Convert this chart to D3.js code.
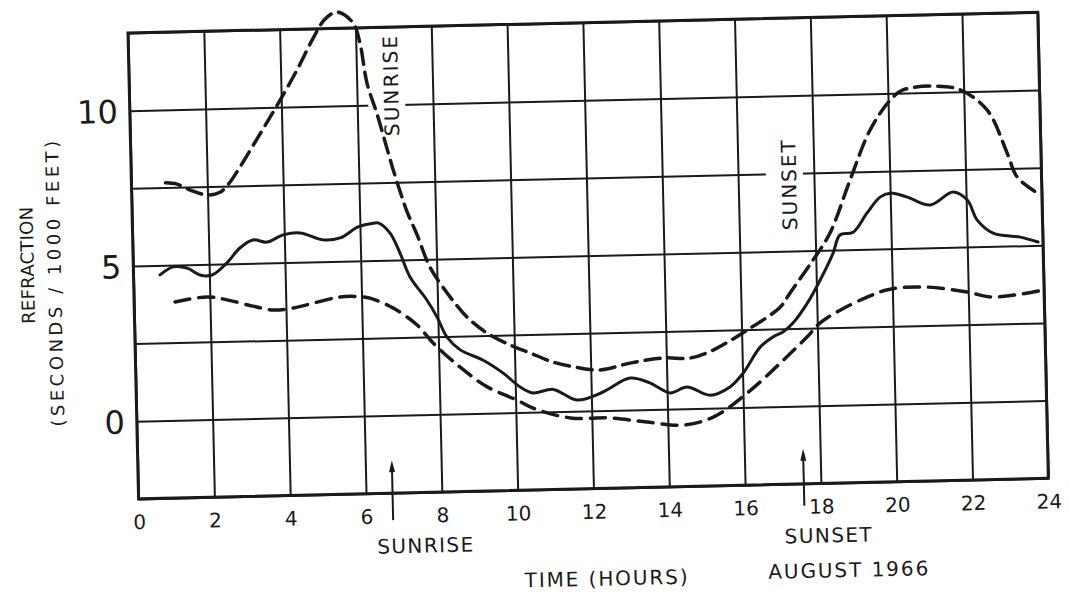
<!DOCTYPE html>
<html>
<head>
<meta charset="utf-8">
<script src="https://cdn.jsdelivr.net/npm/d3@7"></script>
<style>
  body { margin: 0; background: #fff; }
  svg { display: block; }
  text { font-family: "DejaVu Sans", sans-serif; fill: #1a1a1a; }
</style>
</head>
<body>
<script>
// refraction readings, august 1966 (hours / seconds per 1000 ft)
var hoursMax = [0.9, 1.2, 1.55, 2.0, 2.33, 2.55, 2.87, 3.34, 3.78, 4.03, 4.44, 4.88, 5.2, 5.52, 5.94, 6.11, 6.27, 6.52, 6.9, 7.08, 7.25, 7.5, 7.82, 8.26, 8.77, 9.29, 9.89, 10.41, 11.01, 11.6, 12.24, 13.04, 13.91, 14.63, 15.24, 16.15, 17.03, 17.3, 17.93, 18.39, 18.95, 19.51, 20.06, 20.4, 21.3, 21.91, 22.61, 23.11, 23.36, 23.88];
var refrMax = [7.65, 7.6, 7.4, 7.23, 7.31, 7.55, 8.1, 9.0, 9.85, 10.35, 11.2, 12.2, 12.8, 13.02, 12.66, 12.0, 10.72, 9.7, 7.95, 7.2, 6.55, 5.8, 4.75, 3.9, 3.11, 2.58, 2.18, 1.91, 1.6, 1.42, 1.31, 1.51, 1.65, 1.63, 1.87, 2.49, 3.2, 3.65, 4.7, 5.55, 7.24, 8.84, 9.79, 10.1, 10.2, 10.06, 9.39, 7.99, 7.21, 6.69];

var hoursMean = [0.7, 1.05, 1.42, 1.75, 2.07, 2.47, 2.82, 3.17, 3.54, 3.97, 4.42, 5.02, 5.47, 5.95, 6.35, 6.5, 6.79, 7.04, 7.29, 7.72, 7.98, 8.23, 8.57, 9.17, 9.69, 10.13, 10.46, 11.0, 11.62, 12.31, 13.03, 13.55, 14.08, 14.53, 15.13, 15.66, 16.02, 16.48, 16.83, 17.09, 17.36, 17.75, 18.1, 18.46, 18.65, 19.0, 19.38, 19.73, 20.0, 20.45, 21.05, 21.66, 22.03, 22.28, 22.69, 23.4, 23.87];
var refrMean = [4.69, 4.94, 4.89, 4.66, 4.65, 5.03, 5.5, 5.75, 5.67, 5.89, 5.94, 5.7, 5.75, 6.09, 6.2, 6.2, 5.87, 5.22, 4.44, 3.69, 3.13, 2.48, 2.06, 1.71, 1.28, 0.82, 0.62, 0.72, 0.36, 0.6, 1.03, 0.86, 0.52, 0.7, 0.42, 0.67, 1.11, 1.93, 2.25, 2.4, 2.68, 3.31, 4.04, 4.9, 5.48, 5.56, 6.17, 6.67, 6.79, 6.65, 6.38, 6.78, 6.51, 5.86, 5.43, 5.28, 5.11];

var hoursMin = [1.08, 1.93, 2.45, 3.13, 3.66, 4.19, 4.72, 5.43, 5.9, 6.22, 6.82, 7.45, 7.86, 8.55, 9.26, 10.04, 10.46, 11.43, 12.48, 13.45, 14.4, 15.2, 16.11, 17.0, 17.72, 18.07, 18.61, 19.33, 19.94, 20.92, 21.97, 22.65, 23.98];
var refrMin = [3.81, 3.95, 3.84, 3.62, 3.48, 3.53, 3.67, 3.85, 3.85, 3.79, 3.46, 2.89, 2.3, 1.51, 0.85, 0.4, 0.13, -0.21, -0.24, -0.4, -0.52, -0.29, 0.46, 1.4, 2.22, 2.66, 3.06, 3.46, 3.7, 3.74, 3.55, 3.37, 3.56];

var xTicks = [0, 2, 4, 6, 8, 10, 12, 14, 16, 18, 20, 22, 24];
var yGrid = [-2.5, 0, 2.5, 5, 7.5, 10, 12.5];
var yLabels = [0, 5, 10];
var sunrise = 6.7, sunset = 17.55;

var width = 1069, height = 594,
  plotW = 910, plotH = 466,
  ink = "#1a1a1a";

var svg = d3.select("body").append("svg")
  .attr("width", width)
  .attr("height", height);
svg.append("rect").attr("width", width).attr("height", height).attr("fill", "#fff");

// the scanned sheet sits slightly tilted
var main = svg.append("g").attr("transform", "translate(128,33) rotate(-1.3)");

var x = d3.scaleLinear().domain([0, 24]).range([0, plotW]);
var y = d3.scaleLinear().domain([-2.5, 12.5]).range([plotH, 0]);

// grid + tick labels through the axes
var xAxis = main.append("g")
  .attr("transform", "translate(0," + plotH + ")")
  .call(d3.axisBottom(x).tickValues(xTicks).tickSize(-plotH).tickPadding(16));
var yAxis = main.append("g")
  .call(d3.axisLeft(y).tickValues(yGrid).tickSize(-plotW).tickPadding(12)
    .tickFormat(function (d) { return yLabels.indexOf(d) >= 0 ? d : ""; }));

[xAxis, yAxis].forEach(function (ax) {
  ax.select(".domain").remove();
  ax.selectAll("line").attr("stroke", ink).attr("stroke-width", 2);
});
xAxis.selectAll("text").style("font-size", "20px").attr("fill", ink);
yAxis.selectAll("text").style("font-size", "32px").attr("fill", ink).attr("dy", "0.36em");

main.append("rect")
  .attr("width", plotW).attr("height", plotH)
  .attr("fill", "none").attr("stroke", ink).attr("stroke-width", 3);

// labels written inside the grid, with the grid broken behind them
var inner = [
  {text: "SUNRISE", h: 6.9, v: 10.6, len: 100},
  {text: "SUNSET", h: 17.34, v: 7.12, len: 90}
];
inner.forEach(function (d) {
  main.append("rect")
    .attr("x", x(d.h) - 23).attr("width", 37)
    .attr("y", y(d.v) - d.len / 2 - 2).attr("height", d.len + 4)
    .attr("fill", "#fff");
  main.append("text")
    .attr("transform", "translate(" + x(d.h) + "," + y(d.v) + ") rotate(-90)")
    .attr("text-anchor", "middle").attr("dy", "0.36em")
    .attr("textLength", d.len).attr("lengthAdjust", "spacing")
    .style("font-size", "20px")
    .text(d.text);
});

// curves
var line = d3.line()
  .x(function (d) { return x(d[0]); })
  .y(function (d) { return y(d[1]); })
  .curve(d3.curveCatmullRom.alpha(0.5));

var series = [
  {h: hoursMax, v: refrMax, dash: "15,8", w: 3.5},
  {h: hoursMin, v: refrMin, dash: "15,9", w: 3.5},
  {h: hoursMean, v: refrMean, dash: null, w: 3}
];
main.selectAll("path.curve")
  .data(series)
  .enter().append("path")
  .attr("class", "curve")
  .attr("d", function (d) { return line(d3.zip(d.h, d.v)); })
  .attr("fill", "none")
  .attr("stroke", ink)
  .attr("stroke-width", function (d) { return d.w; })
  .attr("stroke-dasharray", function (d) { return d.dash; })
  .attr("stroke-linecap", "round");

// sunrise / sunset arrows
[{h: sunrise, tip: 433, tail: 493}, {h: sunset, tip: 431, tail: 488}].forEach(function (a) {
  var cx = x(a.h);
  main.append("line")
    .attr("x1", cx).attr("x2", cx)
    .attr("y1", a.tail).attr("y2", a.tip + 4)
    .attr("stroke", ink).attr("stroke-width", 2);
  main.append("path")
    .attr("d", "M" + cx + "," + a.tip + "L" + (cx - 3) + "," + (a.tip + 12) + "L" + (cx + 3) + "," + (a.tip + 12) + "Z")
    .attr("fill", ink);
});

// captions below the axis
var captions = [
  {text: "SUNRISE", h: 7.53, dy: 53, len: 96},
  {text: "SUNSET", h: 18.16, dy: 52, len: 87},
  {text: "AUGUST 1966", h: 18.67, dy: 87, len: 160},
  {text: "TIME (HOURS)", h: 12.28, dy: 90, len: 163}
];
main.selectAll("text.caption")
  .data(captions)
  .enter().append("text")
  .attr("class", "caption")
  .attr("x", function (d) { return x(d.h); })
  .attr("y", function (d) { return plotH + d.dy; })
  .attr("dy", "0.36em")
  .attr("text-anchor", "middle")
  .attr("textLength", function (d) { return d.len; })
  .attr("lengthAdjust", "spacing")
  .style("font-size", "20px")
  .text(function (d) { return d.text; });

// y axis title
main.append("text")
  .attr("transform", "translate(-106,230) rotate(-90)")
  .attr("text-anchor", "middle").attr("dy", "0.36em")
  .attr("textLength", 117).attr("lengthAdjust", "spacing")
  .style("font-size", "18px")
  .text("REFRACTION");
main.append("text")
  .attr("transform", "translate(-79,249) rotate(-90)")
  .attr("text-anchor", "middle").attr("dy", "0.36em")
  .attr("textLength", 286).attr("lengthAdjust", "spacing")
  .style("font-size", "18px")
  .text("(SECONDS / 1000 FEET)");
</script>
</body>
</html>
